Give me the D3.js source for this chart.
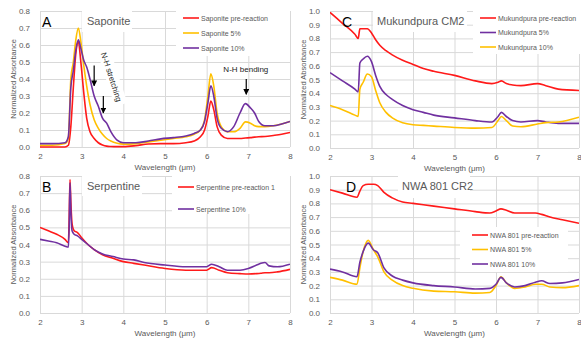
<!DOCTYPE html>
<html>
<head>
<meta charset="utf-8">
<script src="https://cdn.jsdelivr.net/npm/d3@7"></script>
<style>
  body { margin: 0; background: #fff; }
  svg { display: block; font-family: "Liberation Sans", Arial, sans-serif; }
</style>
</head>
<body>
<svg id="chart" width="581" height="341"></svg>
<script>
// ---- data ----
var xTicks = [2, 3, 4, 5, 6, 7, 8];

// A: Saponite
var sapWl = [2, 2.3, 2.6, 2.68, 2.74, 2.8, 2.86, 2.92, 2.98, 3.05, 3.12, 3.2, 3.3, 3.4, 3.5, 3.6, 3.7, 3.85, 4, 4.3, 4.6, 4.9, 5.2, 5.5, 5.7, 5.85, 5.95, 6.03, 6.1, 6.17, 6.25, 6.35, 6.5, 6.65, 6.8, 6.93, 7.05, 7.15, 7.25, 7.4, 7.6, 7.8, 8];
var sapPre = [0, 0, 0, 0.01, 0.12, 0.35, 0.55, 0.62, 0.5, 0.32, 0.17, 0.09, 0.05, 0.025, 0.012, 0.005, 0.003, 0.002, 0.002, 0.008, 0.018, 0.02, 0.02, 0.025, 0.035, 0.06, 0.1, 0.18, 0.27, 0.22, 0.12, 0.07, 0.05, 0.05, 0.05, 0.053, 0.055, 0.058, 0.06, 0.062, 0.068, 0.075, 0.085];
var sap5 = [0.01, 0.01, 0.02, 0.05, 0.4, 0.5, 0.63, 0.7, 0.62, 0.48, 0.36, 0.25, 0.16, 0.11, 0.075, 0.05, 0.035, 0.022, 0.017, 0.02, 0.03, 0.04, 0.05, 0.06, 0.075, 0.1, 0.16, 0.3, 0.43, 0.36, 0.2, 0.12, 0.09, 0.09, 0.11, 0.148, 0.14, 0.125, 0.12, 0.12, 0.125, 0.135, 0.15];
var sap10 = [0.02, 0.02, 0.025, 0.06, 0.35, 0.45, 0.57, 0.63, 0.58, 0.51, 0.47, 0.4, 0.3, 0.24, 0.17, 0.14, 0.09, 0.04, 0.025, 0.025, 0.035, 0.048, 0.055, 0.065, 0.08, 0.1, 0.15, 0.26, 0.36, 0.3, 0.17, 0.11, 0.09, 0.12, 0.2, 0.255, 0.23, 0.2, 0.15, 0.125, 0.125, 0.135, 0.15];

// B: Serpentine
var serWl = [2, 2.2, 2.4, 2.6, 2.68, 2.7, 2.72, 2.74, 2.77, 2.82, 2.9, 3, 3.15, 3.3, 3.5, 3.75, 4, 4.25, 4.5, 5, 5.5, 6, 6.12, 6.3, 6.5, 6.8, 7, 7.2, 7.3, 7.4, 7.5, 7.7, 8];
var serPre = [0.5, 0.48, 0.46, 0.43, 0.41, 0.55, 0.78, 0.65, 0.52, 0.48, 0.47, 0.44, 0.4, 0.37, 0.34, 0.32, 0.3, 0.29, 0.28, 0.26, 0.25, 0.25, 0.265, 0.25, 0.235, 0.23, 0.228, 0.23, 0.232, 0.235, 0.235, 0.24, 0.255];
var ser10 = [0.43, 0.42, 0.41, 0.39, 0.385, 0.5, 0.76, 0.6, 0.48, 0.46, 0.45, 0.43, 0.4, 0.37, 0.345, 0.33, 0.315, 0.31, 0.295, 0.28, 0.27, 0.27, 0.285, 0.27, 0.25, 0.25, 0.26, 0.28, 0.29, 0.295, 0.275, 0.27, 0.285];

// C: Mukundpura CM2
var mukWl = [2, 2.3, 2.6, 2.68, 2.72, 2.8, 2.9, 3, 3.1, 3.2, 3.35, 3.5, 3.75, 4, 4.25, 4.5, 5, 5.5, 5.9, 6.05, 6.13, 6.25, 6.4, 6.6, 7, 7.2, 7.5, 8];
var mukPre = [0.99, 0.91, 0.83, 0.8, 0.87, 0.87, 0.87, 0.84, 0.79, 0.75, 0.71, 0.68, 0.64, 0.61, 0.58, 0.56, 0.53, 0.49, 0.47, 0.48, 0.49, 0.47, 0.46, 0.455, 0.47, 0.455, 0.43, 0.42];
var muk5 = [0.55, 0.49, 0.43, 0.41, 0.62, 0.65, 0.67, 0.63, 0.53, 0.45, 0.39, 0.355, 0.31, 0.28, 0.26, 0.24, 0.22, 0.2, 0.19, 0.23, 0.26, 0.23, 0.2, 0.19, 0.2, 0.19, 0.18, 0.18];
var muk10 = [0.31, 0.28, 0.24, 0.23, 0.43, 0.48, 0.54, 0.52, 0.42, 0.33, 0.26, 0.22, 0.185, 0.17, 0.165, 0.16, 0.15, 0.145, 0.15, 0.2, 0.23, 0.2, 0.16, 0.155, 0.175, 0.185, 0.19, 0.225];

// D: NWA 801 CR2
var nwaWl = [2, 2.3, 2.65, 2.72, 2.8, 2.92, 3.05, 3.15, 3.3, 3.5, 3.75, 4, 4.5, 5, 5.5, 5.85, 6, 6.12, 6.25, 6.45, 6.7, 6.95, 7.1, 7.3, 7.6, 8];
var nwaPre = [0.9, 0.875, 0.845, 0.89, 0.93, 0.94, 0.94, 0.93, 0.88, 0.84, 0.81, 0.8, 0.78, 0.76, 0.74, 0.73, 0.745, 0.76, 0.75, 0.73, 0.73, 0.73, 0.72, 0.7, 0.68, 0.655];
var nwa5 = [0.26, 0.24, 0.21, 0.33, 0.45, 0.53, 0.46, 0.41, 0.3, 0.24, 0.2, 0.18, 0.16, 0.155, 0.145, 0.15, 0.2, 0.265, 0.22, 0.18, 0.19, 0.21, 0.21, 0.19, 0.185, 0.2];
var nwa10 = [0.32, 0.3, 0.265, 0.37, 0.45, 0.51, 0.46, 0.44, 0.33, 0.27, 0.24, 0.22, 0.2, 0.19, 0.175, 0.18, 0.21, 0.26, 0.22, 0.19, 0.2, 0.225, 0.235, 0.215, 0.22, 0.245];

var RED = "#ff1a1a", YEL = "#ffc000", PUR = "#7030a0";
var GRID = "#d9d9d9", TXT = "#595959";

var panels = [
  { letter: "A", title: "Saponite", x0: 40, x1: 290, y0: 11, y1: 147, ymax: 0.8, wl: sapWl,
    letterX: 42, titleX: 87, titleBox: [82, 11, 50, 21],
    legend: { x: 183, y: 18, dy: 15, box: [176, 11, 114, 45] },
    series: [["Saponite pre-reaction", sapPre, RED], ["Saponite 5%", sap5, YEL], ["Saponite 10%", sap10, PUR]] },
  { letter: "C", title: "Mukundpura CM2", x0: 330, x1: 579, y0: 11, y1: 148, ymax: 1.0, wl: mukWl,
    letterX: 342, titleX: 377, titleBox: [373, 11, 94, 21],
    legend: { x: 480, y: 18, dy: 14.5, box: [473, 11, 107, 43] },
    series: [["Mukundpura pre-reaction", mukPre, RED], ["Mukundpura 5%", muk5, PUR], ["Mukundpura 10%", muk10, YEL]] },
  { letter: "B", title: "Serpentine", x0: 40, x1: 290, y0: 176, y1: 313, ymax: 0.8, wl: serWl,
    letterX: 42, titleX: 87, titleBox: [82, 176, 60, 20],
    legend: { x: 178, y: 187, dy: 22, box: [172, 176, 118, 38] },
    series: [["Serpentine pre-reaction 1", serPre, RED], ["Serpentine 10%", ser10, PUR]] },
  { letter: "D", title: "NWA 801 CR2", x0: 330, x1: 579, y0: 176, y1: 313, ymax: 1.0, wl: nwaWl,
    letterX: 346, titleX: 402, titleBox: [398, 176, 72, 22],
    legend: { x: 472, y: 235, dy: 14.5, box: [460, 227, 108, 45] },
    series: [["NWA 801 pre-reaction", nwaPre, RED], ["NWA 801 5%", nwa5, YEL], ["NWA 801 10%", nwa10, PUR]] }
];

var svg = d3.select("#chart");

panels.forEach(function (p) {
  var g = svg.append("g");
  var x = d3.scaleLinear().domain([2, 8]).range([p.x0, p.x1]);
  var y = d3.scaleLinear().domain([0, p.ymax]).range([p.y1, p.y0]);
  var yTicks = d3.range(0, p.ymax + 0.001, 0.1);

  // grid
  g.append("g")
    .attr("transform", "translate(0," + p.y1 + ")")
    .call(d3.axisBottom(x).tickValues(xTicks).tickSize(-(p.y1 - p.y0)).tickFormat(""))
    .call(function (a) { a.select(".domain").remove(); a.selectAll("line").attr("stroke", GRID); });
  g.append("g")
    .attr("transform", "translate(" + p.x0 + ",0)")
    .call(d3.axisLeft(y).tickValues(yTicks).tickSize(-(p.x1 - p.x0)).tickFormat(""))
    .call(function (a) { a.select(".domain").remove(); a.selectAll("line").attr("stroke", GRID); });

  // tick labels
  g.append("g")
    .attr("transform", "translate(0," + (p.y1 + 3) + ")")
    .call(d3.axisBottom(x).tickValues(xTicks).tickSize(0).tickFormat(d3.format("d")))
    .call(function (a) {
      a.select(".domain").remove();
      a.selectAll("text").attr("fill", TXT).attr("font-size", 8).attr("font-family", "Liberation Sans, Arial");
    });
  g.append("g")
    .attr("transform", "translate(" + (p.x0 - 7) + ",0)")
    .call(d3.axisLeft(y).tickValues(yTicks).tickSize(0).tickFormat(d3.format(".1f")))
    .call(function (a) {
      a.select(".domain").remove();
      a.selectAll("text").attr("fill", TXT).attr("font-size", 8).attr("font-family", "Liberation Sans, Arial");
    });

  // axis titles
  g.append("text")
    .attr("x", (p.x0 + p.x1) / 2).attr("y", p.y1 + 23)
    .attr("text-anchor", "middle").attr("fill", TXT).attr("font-size", 8)
    .text("Wavelength (\u03bcm)");
  g.append("text")
    .attr("transform", "translate(" + (p.x0 - 24) + "," + ((p.y0 + p.y1) / 2) + ") rotate(-90)")
    .attr("text-anchor", "middle").attr("fill", TXT).attr("font-size", 7.5)
    .text("Normalized Absorbance");

  // lines
  var clipId = "clip" + p.letter;
  svg.append("clipPath").attr("id", clipId).append("rect")
    .attr("x", p.x0).attr("y", p.y0 - 6).attr("width", p.x1 - p.x0).attr("height", p.y1 - p.y0 + 8);
  p.series.forEach(function (s) {
    var line = d3.line()
      .x(function (d, i) { return x(p.wl[i]); })
      .y(function (d) { return y(d); })
      .curve(d3.curveMonotoneX);
    g.append("path")
      .attr("clip-path", "url(#" + clipId + ")")
      .attr("d", line(s[1]))
      .attr("fill", "none").attr("stroke", s[2]).attr("stroke-width", 1.6)
      .attr("stroke-linejoin", "round");
  });

  // letter + title
  g.append("text").attr("x", p.letterX).attr("y", p.y0 + 16)
    .attr("font-size", 14).attr("fill", "#000").text(p.letter);
  g.append("rect").attr("x", p.titleBox[0]).attr("y", p.titleBox[1])
    .attr("width", p.titleBox[2]).attr("height", p.titleBox[3]).attr("fill", "#fff");
  g.append("text").attr("x", p.titleX).attr("y", p.titleBox[1] + 14)
    .attr("font-size", 11).attr("fill", TXT).text(p.title);

  // legend
  var L = p.legend;
  g.append("rect").attr("x", L.box[0]).attr("y", L.box[1]).attr("width", L.box[2]).attr("height", L.box[3])
    .attr("fill", "#fff");
  p.series.forEach(function (s, i) {
    var yy = L.y + i * L.dy;
    g.append("line").attr("x1", L.x).attr("x2", L.x + 16).attr("y1", yy).attr("y2", yy)
      .attr("stroke", s[2]).attr("stroke-width", 1.6);
    g.append("text").attr("x", L.x + 18).attr("y", yy + 2.5)
      .attr("font-size", 7).attr("fill", TXT).text(s[0]);
  });
});

// annotations in panel A
var ax = d3.scaleLinear().domain([2, 8]).range([40, 290]);
var ay = d3.scaleLinear().domain([0, 0.8]).range([147, 11]);
svg.append("defs").append("marker").attr("id", "arr")
  .attr("viewBox", "0 0 10 10").attr("refX", 9).attr("refY", 5)
  .attr("markerWidth", 5).attr("markerHeight", 5).attr("orient", "auto")
  .append("path").attr("d", "M0,0 L10,5 L0,10 z").attr("fill", "#000");

var arrows = [[3.3, 0.48, 0.36], [3.52, 0.3, 0.2], [6.95, 0.4, 0.31]];
arrows.forEach(function (a) {
  svg.append("line").attr("x1", ax(a[0])).attr("x2", ax(a[0]))
    .attr("y1", ay(a[1])).attr("y2", ay(a[2]))
    .attr("stroke", "#000").attr("stroke-width", 1.2).attr("marker-end", "url(#arr)");
});

var st = svg.append("g").attr("transform", "translate(" + ax(3.46) + "," + ay(0.55) + ") rotate(72)");
st.append("rect").attr("x", -3).attr("y", -10).attr("width", 58).attr("height", 13).attr("fill", "#fff");
st.append("text").attr("x", 0).attr("y", 0).attr("font-size", 8).attr("fill", "#222").text("N-H stretching");

svg.append("text").attr("x", ax(6.94)).attr("y", ay(0.44))
  .attr("text-anchor", "middle").attr("font-size", 8).attr("fill", "#222").text("N-H bending");
</script>
</body>
</html>
